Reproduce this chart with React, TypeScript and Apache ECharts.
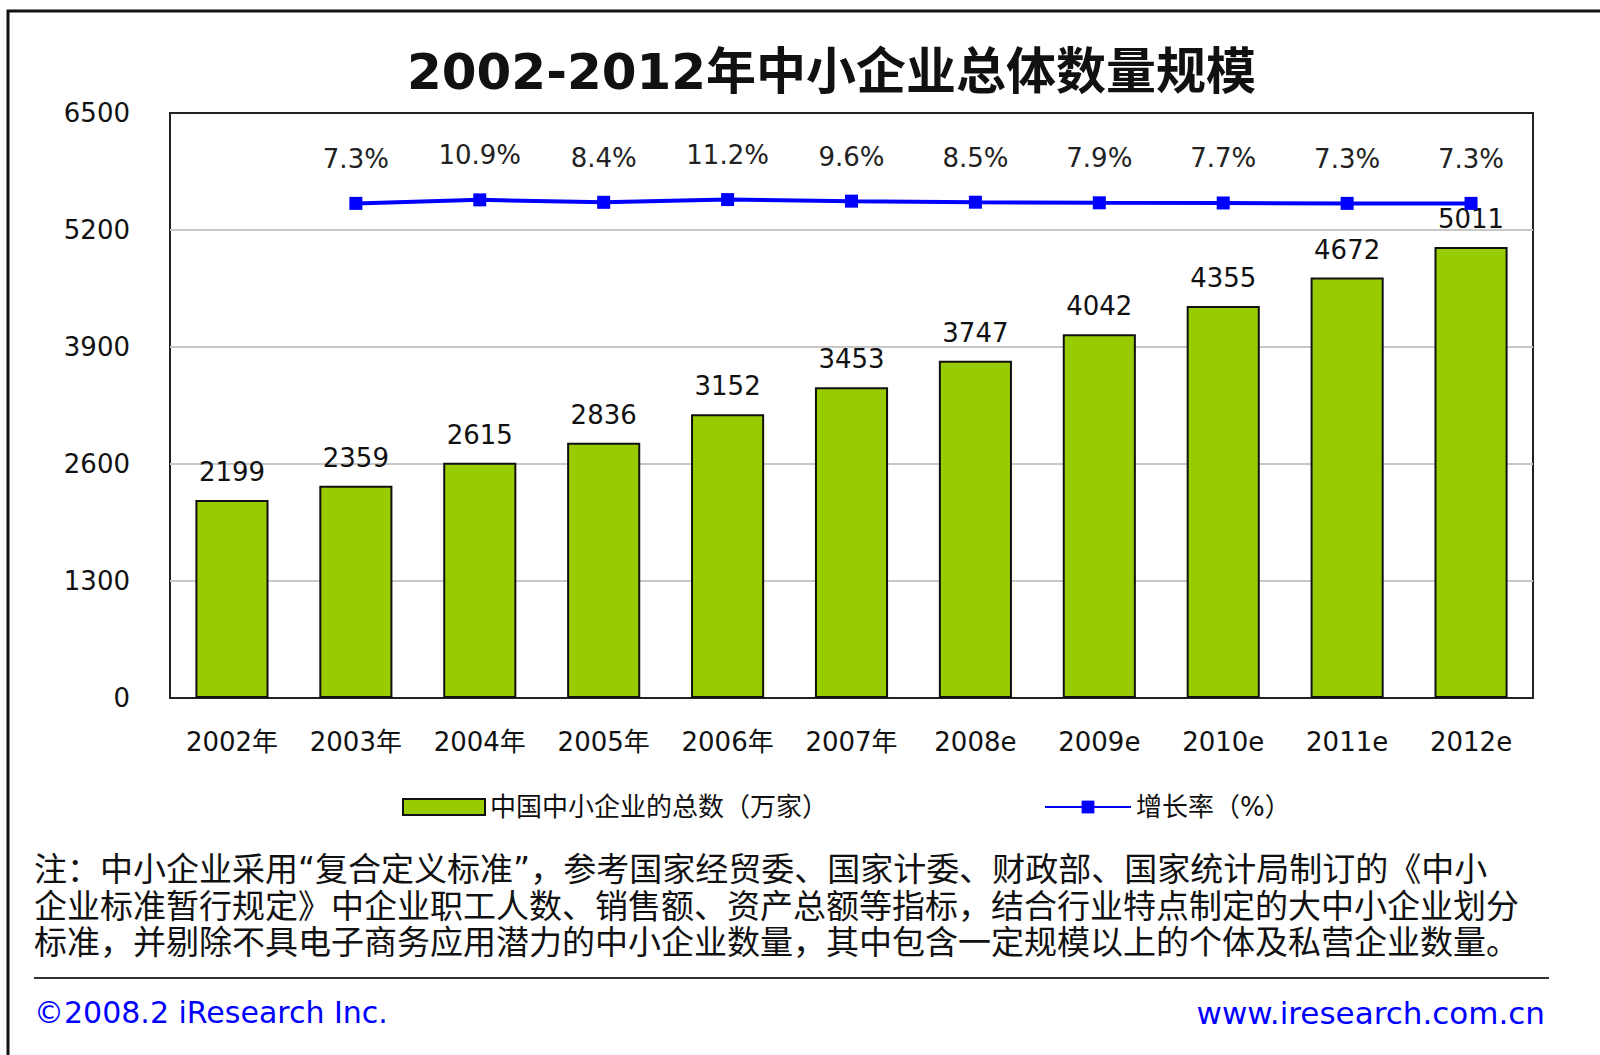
import React, { useEffect, useRef } from "react";
import * as echarts from "echarts";

const categories = ["2002年", "2003年", "2004年", "2005年", "2006年", "2007年", "2008e", "2009e", "2010e", "2011e", "2012e"];
const totals = [2199, 2359, 2615, 2836, 3152, 3453, 3747, 4042, 4355, 4672, 5011];
const growth = [null, 7.3, 10.9, 8.4, 11.2, 9.6, 8.5, 7.9, 7.7, 7.3, 7.3];
const barName = "中国中小企业的总数（万家）";
const lineName = "增长率（%）";
const titleText = "2002-2012年中小企业总体数量规模";
const noteLines = [
  "注：中小企业采用“复合定义标准”，参考国家经贸委、国家计委、财政部、国家统计局制订的《中小",
  "企业标准暂行规定》中企业职工人数、销售额、资产总额等指标，结合行业特点制定的大中小企业划分",
  "标准，并剔除不具电子商务应用潜力的中小企业数量，其中包含一定规模以上的个体及私营企业数量。",
];
const copyrightText = "©2008.2 iResearch Inc.";
const siteText = "www.iresearch.com.cn";

const FONT = "'DejaVu Sans', 'Noto Sans CJK SC', sans-serif";

export default function App() {
  const ref = useRef<HTMLDivElement>(null);
  useEffect(() => {
    if (!ref.current) return;
    const chart = echarts.init(ref.current, null, { renderer: "svg" });
    chart.setOption({
      animation: false,
      backgroundColor: "#ffffff",
      textStyle: { fontFamily: FONT },
      title: {
        text: titleText,
        left: 402,
        top: 42,
        textStyle: { fontSize: 50, fontWeight: "bold", color: "#111", fontFamily: FONT },
      },
      grid: {
        left: 170,
        right: 67,
        top: 113,
        bottom: 357,
        show: true,
        borderColor: "#222",
        borderWidth: 2,
        backgroundColor: "transparent",
      },
      legend: [
        {
          data: [{ name: barName, icon: "rect" }],
          left: 397,
          top: 789,
          itemWidth: 82,
          itemHeight: 16,
          itemGap: 14,
          textStyle: { fontSize: 26, color: "#111", fontFamily: FONT },
        },
        {
          data: [lineName],
          left: 1039,
          top: 789,
          itemWidth: 86,
          itemHeight: 16,
          textStyle: { fontSize: 26, color: "#111", fontFamily: FONT },
        },
      ],
      xAxis: {
        type: "category",
        data: categories,
        axisTick: { show: false },
        axisLine: { show: true, lineStyle: { color: "#222", width: 2 } },
        axisLabel: { fontSize: 26, color: "#111", margin: 31, interval: 0, fontFamily: FONT },
      },
      yAxis: [
        {
          type: "value",
          min: 0,
          max: 6500,
          interval: 1300,
          axisLine: { show: false },
          axisTick: { show: false },
          axisLabel: {
            fontSize: 26,
            color: "#111",
            margin: 40,
            fontFamily: FONT,
            formatter: (v: number) => String(v),
          },
          splitLine: {
            show: true,
            showMaxLine: false,
            showMinLine: false,
            lineStyle: { color: "#c8c8c8", width: 2 },
          },
        },
        {
          type: "value",
          min: -500,
          max: 100,
          show: false,
          splitLine: { show: false },
        },
      ],
      series: [
        {
          name: barName,
          type: "bar",
          data: totals,
          barWidth: "59%",
          itemStyle: { color: "#99CC00", borderColor: "#111", borderWidth: 2 },
          label: {
            show: true,
            position: "top",
            distance: 15,
            fontSize: 26,
            color: "#111",
            fontFamily: FONT,
          },
        },
        {
          name: lineName,
          type: "line",
          yAxisIndex: 1,
          data: growth,
          symbol: "rect",
          symbolSize: 13,
          lineStyle: { color: "#0000FF", width: 4 },
          itemStyle: { color: "#0000FF" },
          label: {
            show: true,
            position: "top",
            distance: 25,
            fontSize: 26,
            color: "#222",
            fontFamily: FONT,
            formatter: (p: any) => p.value + "%",
          },
        },
      ],
      graphic: [
        {
          type: "rect",
          shape: { x: 8, y: 11, width: 1700, height: 1200 },
          style: { fill: "none", stroke: "#111", lineWidth: 3 },
          silent: true,
        },
        ...noteLines.map((t, i) => ({
          type: "text",
          left: 34,
          top: 870 + i * 36.5 - 17,
          style: { text: t, fontSize: 33, fill: "#111", fontFamily: FONT },
        })),
        {
          type: "line",
          shape: { x1: 34, y1: 978, x2: 1549, y2: 978 },
          style: { stroke: "#333", lineWidth: 2 },
        },
        {
          type: "text",
          left: 34,
          top: 997,
          style: { text: copyrightText, fontSize: 30, fill: "#0000FF", fontFamily: FONT },
        },
        {
          type: "text",
          right: 55,
          top: 997,
          style: { text: siteText, fontSize: 31, fill: "#0000FF", fontFamily: FONT },
        },
      ],
    });
    return () => chart.dispose();
  }, []);
  return (
    <div
      ref={ref}
      style={{ position: "fixed", left: 0, top: 0, width: 1600, height: 1055 }}
    />
  );
}
